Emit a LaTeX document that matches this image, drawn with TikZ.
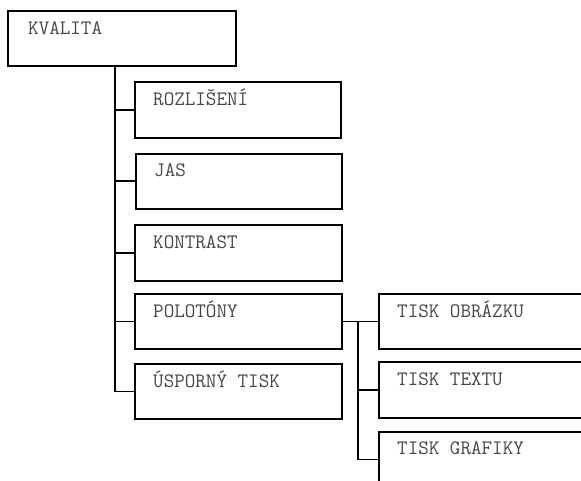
\documentclass[tikz,border=0pt]{standalone}
\usepackage{fontspec}
\definecolor{txtgray}{RGB}{70,70,70}
\begin{document}
\begin{tikzpicture}[x=1pt,y=-1pt,
  menubox/.style={draw=black, line width=1.8pt, rectangle, inner sep=0pt, anchor=north west},
  menutext/.style={anchor=base west, inner sep=0pt, font=\ttfamily\fontsize{20.5}{22}\selectfont, text=txtgray},
  conn/.style={draw=black, line width=1.8pt}]
\useasboundingbox (0,0) rectangle (581,481);
\begin{scope}
\clip (0,0) rectangle (581,481);
% level 0
\node[menubox, minimum width=228pt, minimum height=55pt] (K) at (7,10) {};
% level 1
\node[menubox, minimum width=206pt, minimum height=56pt] (R) at (134,81) {};
\node[menubox, minimum width=206pt, minimum height=55pt] (J) at (135,153) {};
\node[menubox, minimum width=207pt, minimum height=56pt] (C) at (134,224) {};
\node[menubox, minimum width=207pt, minimum height=55pt] (P) at (134,293) {};
\node[menubox, minimum width=207pt, minimum height=55pt] (U) at (134,363) {};
% level 2 (open to the right / bottom)
\node[menubox, minimum width=240pt, minimum height=55pt] (O) at (378,293) {};
\node[menubox, minimum width=240pt, minimum height=56pt] (T) at (378,361) {};
\node[menubox, minimum width=240pt, minimum height=55pt] (G) at (378,431) {};
\end{scope}
% texts
\node[menutext] (Kt) at ([xshift=21pt,yshift=-25pt]K.north west) {KVALITA};
\node[menutext] (Rt) at ([xshift=19pt,yshift=-25pt]R.north west) {ROZLIŠENÍ};
\node[menutext] (Jt) at ([xshift=19pt,yshift=-24pt]J.north west) {JAS};
\node[menutext] (Ct) at ([xshift=19pt,yshift=-24pt]C.north west) {KONTRAST};
\node[menutext] (Pt) at ([xshift=19pt,yshift=-24pt]P.north west) {POLOTÓNY};
\node[menutext] (Ut) at ([xshift=19pt,yshift=-24pt]U.north west) {ÚSPORNÝ TISK};
\node[menutext] (Ot) at ([xshift=19pt,yshift=-24pt]O.north west) {TISK OBRÁZKU};
\node[menutext] (Tt) at ([xshift=19pt,yshift=-24pt]T.north west) {TISK TEXTU};
\node[menutext] (Gt) at ([xshift=19pt,yshift=-23pt]G.north west) {TISK GRAFIKY};
% connectors level 1
\coordinate (t1) at (K.south -| 115,0);
\draw[conn] (t1) |- (U.west);
\draw[conn] (t1 |- R.west) -- (R.west);
\draw[conn] (t1 |- J.west) -- (J.west);
\draw[conn] (t1 |- C.west) -- (C.west);
\draw[conn] (t1 |- P.west) -- (P.west);
% connectors level 2
\draw[conn] (P.east) -- (O.west);
\coordinate (t2) at (P.east -| 358,0);
\draw[conn] (t2) |- (G.west);
\draw[conn] (t2 |- T.west) -- (T.west);
\end{tikzpicture}
\end{document}
